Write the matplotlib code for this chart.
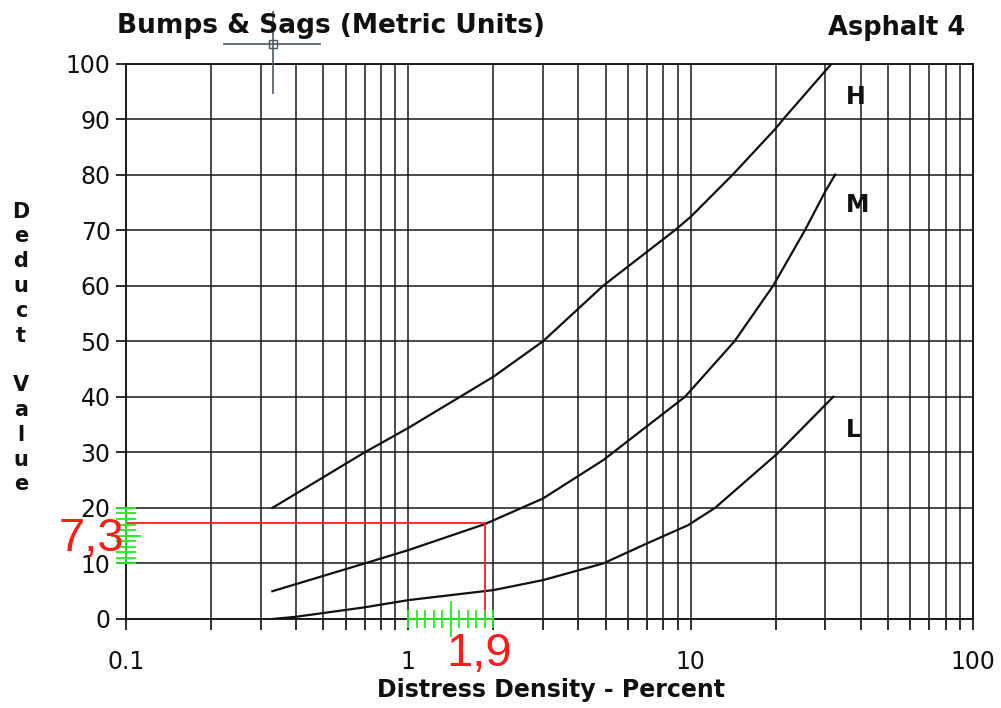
import numpy as np
import matplotlib
matplotlib.use("Agg")
import matplotlib.pyplot as plt
from matplotlib.lines import Line2D
from matplotlib.patches import Rectangle
from matplotlib.ticker import FixedLocator, NullFormatter, LogLocator

# curve data (distress density %, deduct value)
h_x = [0.33, 0.7, 1, 2, 3, 4.9, 8.8, 10, 14.1, 20, 21.3, 31.6]
h_y = [20, 30, 34.4, 43.6, 50, 60, 70, 72.4, 80, 88.3, 90, 100]

m_x = [0.33, 0.7, 1, 1.87, 3, 4.9, 9.55, 14.3, 19.6, 25.4, 30, 32.5]
m_y = [5, 10, 12.4, 17.1, 21.7, 28.6, 40, 50, 60, 70, 77, 80]

l_x = [0.33, 0.4, 0.7, 1, 2, 3, 4.9, 7, 9.8, 12.2, 20.2, 32]
l_y = [0, 0.4, 2.1, 3.4, 5.2, 7.0, 10, 13.6, 16.9, 20, 29.7, 40]

curve_labels = ["H", "M", "L"]
label_x = [35.5, 35.5, 35.5]
label_y = [94, 74.5, 34]

# reading marked in red on the chart
read_x = 1.87
read_y = 17.3
read_x_text = "1,9"
read_y_text = "7,3"

x_ticks = [0.1, 1, 10, 100]
x_ticklabels = ["0.1", "1", "10", "100"]
y_ticks = list(range(0, 101, 10))

title = "Bumps & Sags (Metric Units)"
corner = "Asphalt 4"
xlabel = "Distress Density - Percent"
ylabel = "Deduct Value"

W, H = 1001, 708
fig = plt.figure(figsize=(W / 100, H / 100), dpi=100)
ax = fig.add_axes([126 / W, 1 - 619 / H, 847 / W, (619 - 63.5) / H])

ax.set_xscale("log")
ax.set_xlim(0.1, 100)
ax.set_ylim(0, 100)

grid_kw = dict(color="#1a1a1a", linewidth=1.3, alpha=0.85)
ax.xaxis.set_major_locator(FixedLocator(x_ticks))
ax.xaxis.set_minor_locator(LogLocator(base=10, subs=np.arange(2, 10)))
ax.xaxis.set_minor_formatter(NullFormatter())
ax.set_xticklabels(x_ticklabels)
ax.set_yticks(y_ticks)
ax.grid(True, which="both", axis="x", **grid_kw)
ax.grid(True, which="major", axis="y", **grid_kw)
ax.set_axisbelow(True)

ax.tick_params(axis="x", which="both", direction="out", length=8,
               width=1.3, color="#1a1a1a", pad=14)
ax.tick_params(axis="y", which="major", direction="out", length=7,
               width=1.3, color="#1a1a1a", pad=4)
for lab in ax.get_xticklabels() + ax.get_yticklabels():
    lab.set_fontsize(17)
    lab.set_color("#111111")
for sp in ax.spines.values():
    sp.set_color("#1a1a1a")
    sp.set_linewidth(1.4)

for xs, ys in [(h_x, h_y), (m_x, m_y), (l_x, l_y)]:
    ax.plot(xs, ys, color="#111111", linewidth=1.6, zorder=3)

for lab, lx, ly in zip(curve_labels, label_x, label_y):
    ax.text(lx, ly, lab, fontsize=17, fontweight="bold", ha="left",
            va="center", color="#111111", zorder=4)

# red reading lines and numbers
red = "#ff1a1a"
ax.plot([0.1, read_x], [read_y, read_y], color=red, linewidth=1.3,
        zorder=5, clip_on=False)
ax.plot([read_x, read_x], [read_y, 0], color=red, linewidth=1.3,
        zorder=5, clip_on=False)
ax.annotate(read_y_text, xy=(0.1, read_y), xytext=(-2, -28),
            textcoords="offset pixels", fontsize=34, color=red,
            family="Liberation Sans", ha="right", va="baseline",
            annotation_clip=False, zorder=6)
ax.annotate(read_x_text, xy=(read_x, 0), xytext=(-6, -47),
            textcoords="offset pixels", fontsize=34, color=red,
            family="Liberation Sans", ha="center", va="baseline",
            annotation_clip=False, zorder=6)

# green rulers
green = "#22ee22"
ruler_y = np.arange(10, 21)
ax.plot([0.1, 0.1], [ruler_y[0], ruler_y[-1]], color=green, linewidth=1.3,
        clip_on=False, zorder=5)
ax.plot(np.full(len(ruler_y), 0.1), ruler_y, linestyle="none", marker="_",
        markersize=14, markeredgewidth=1.3, color=green, clip_on=False, zorder=5)
ax.plot([0.1], [15], linestyle="none", marker="_", markersize=22,
        markeredgewidth=1.3, color=green, clip_on=False, zorder=5)

ruler_x = np.geomspace(1, 2, 11)
ax.plot([ruler_x[0], ruler_x[-1]], [0, 0], color=green, linewidth=1.3,
        clip_on=False, zorder=5)
ax.plot(ruler_x, np.zeros(len(ruler_x)), linestyle="none", marker="|",
        markersize=13, markeredgewidth=1.3, color=green, clip_on=False, zorder=5)
ax.plot([ruler_x[5]], [0], linestyle="none", marker="|", markersize=26,
        markeredgewidth=1.3, color=green, clip_on=False, zorder=5)

# titles and labels
fig.text(117 / W, 1 - 26 / H, title, fontsize=19, fontweight="bold",
         ha="left", va="center", color="#111111")
fig.text(965 / W, 1 - 28 / H, corner, fontsize=18.5, fontweight="bold",
         ha="right", va="center", color="#111111")
ax.set_xlabel(xlabel, fontsize=17, fontweight="bold", color="#111111")
ax.xaxis.set_label_coords(0.502, -0.128)
ax.xaxis.label.set_va("center")
fig.text(21 / W, 1 - 348 / H, "\n".join(ylabel), fontsize=15,
         fontweight="bold", ha="center", va="center", linespacing=1.3,
         color="#111111")

# mouse cursor caught in the screenshot
cur = "#4a5868"
cx, cy = 272.5, 44
fig.add_artist(Line2D([224 / W, 320 / W], [1 - cy / H, 1 - cy / H],
                      color=cur, linewidth=1.2))
fig.add_artist(Line2D([cx / W, cx / W], [1 - 12 / H, 1 - 93 / H],
                      color=cur, linewidth=1.2))
fig.add_artist(Rectangle(((cx - 4) / W, 1 - (cy + 4) / H), 8 / W, 8 / H,
                         transform=fig.transFigure, facecolor="white",
                         edgecolor=cur, linewidth=1.0))

fig.savefig("out.png", dpi=100)
